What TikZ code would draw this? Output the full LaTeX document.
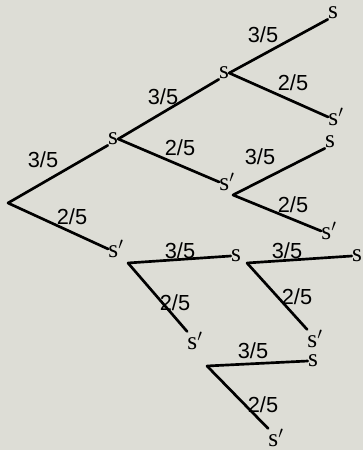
\documentclass[tikz,border=0pt]{standalone}
\usepackage{fontspec}
\setmainfont{Liberation Serif}
\newfontfamily\fracfont{Liberation Sans}
\usepackage{tikz}
\usetikzlibrary{positioning}
\definecolor{paper}{RGB}{221,221,214}

\tikzset{
  state/.style={inner sep=0pt, font=\fontsize{18}{18}\selectfont},
  prob/.style={inner sep=0pt, font=\fracfont\fontsize{15.5}{15.5}\selectfont},
  branch/.style={line width=1.9pt, line cap=round}
}

\begin{document}
\begin{tikzpicture}[x=0.25mm, y=-0.25mm]
\fill[paper] (0,0) rectangle (363,450);
\useasboundingbox (0,0) rectangle (363,450);
% stati
\coordinate (r) at (8,203);
\node[state] (s1) at (113,139) {s};
\node[state] (t1) at (116,249) {s$'$};
\node[state] (s2) at (224,73) {s};
\node[state] (t2) at (227,182) {s$'$};
\node[state] (s3) at (333,13) {s};
\node[state] (t3) at (336,117) {s$'$};
\node[state] (s4) at (330,142) {s};
\node[state] (t4) at (329,231) {s$'$};
\node[state] (s5) at (236,256) {s};
\node[state] (t5) at (195,341) {s$'$};
\node[state] (s6) at (357,256) {s};
\node[state] (t6) at (315,339) {s$'$};
\node[state] (s7) at (313,361) {s};
\node[state] (t7) at (276,438) {s$'$};
% punti di diramazione
\coordinate (v2) at (233,195);
\coordinate (v1) at (128,263);
\coordinate (v5) at (247,263);
\coordinate (v6) at (207,366);
% rami
\draw[branch] (r) -- (s1.south west);
\draw[branch] (r) -- (t1.west);
\draw[branch] (s1.east) -- (s2.south west);
\draw[branch] (s1.east) -- (t2.west);
\draw[branch] (s2.east) -- (s3.south west);
\draw[branch] (s2.east) -- (t3.west);
\draw[branch] (v2) -- (s4.south west);
\draw[branch] (v2) -- (t4.west);
\draw[branch] (v1) -- (s5.west);
\draw[branch] (v1) -- (t5.north west);
\draw[branch] (v5) -- (s6.west);
\draw[branch] (v5) -- (t6.north west);
\draw[branch] (v6) -- (s7.west);
\draw[branch] (v6) -- (t7.north west);
% probabilita
\node[prob] (p1) at (43,160) {3/5};
\node[prob] (p2) at (72,217) {2/5};
\node[prob] (p3) at (163,97) {3/5};
\node[prob] (p4) at (180,148) {2/5};
\node[prob] (p5) at (263,35) {3/5};
\node[prob] (p6) at (293,83) {2/5};
\node[prob] (p7) at (260,157) {3/5};
\node[prob] (p8) at (293,205) {2/5};
\node[prob] (p9) at (180,251) {3/5};
\node[prob] (p10) at (175,303) {2/5};
\node[prob] (p11) at (287,251) {3/5};
\node[prob] (p12) at (297,297) {2/5};
\node[prob] (p13) at (253,351) {3/5};
\node[prob] (p14) at (263,405) {2/5};
\end{tikzpicture}
\end{document}
